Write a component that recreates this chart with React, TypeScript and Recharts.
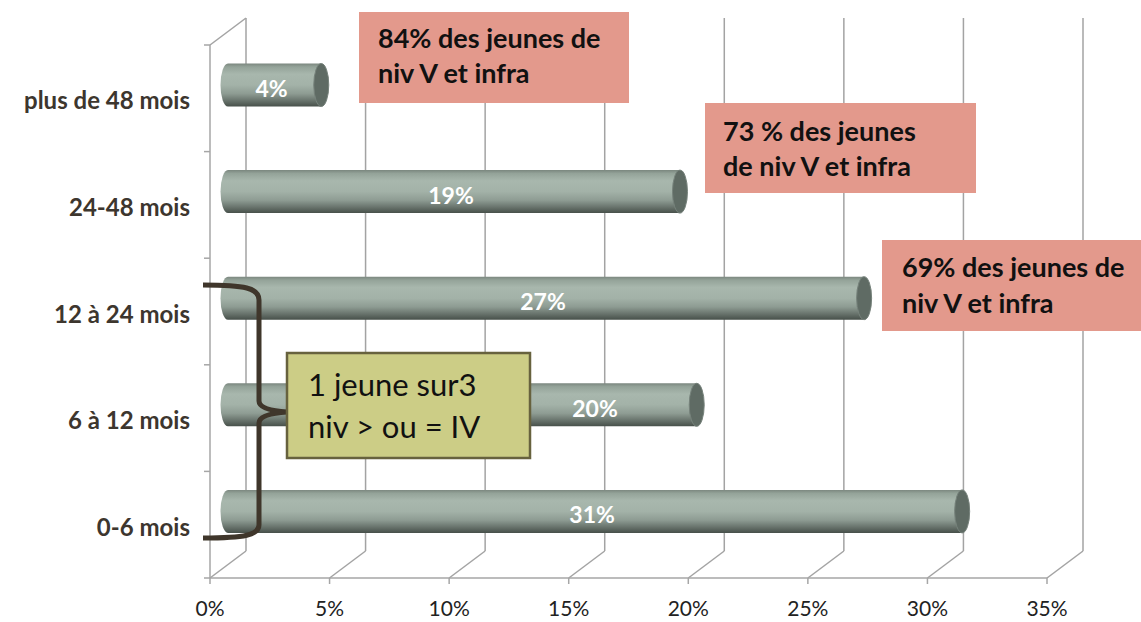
import { BarChart, Bar, XAxis, YAxis, ReferenceLine, LabelList } from "recharts"

// valeurs (en %)
const categories = ["plus de 48 mois", "24-48 mois", "12 à 24 mois", "6 à 12 mois", "0-6 mois"]
const shares = [3.9, 18.9, 26.6, 19.6, 30.7]
const xTicks = [0, 5, 10, 15, 20, 25, 30, 35]

const pinkNotes = [
  ["84% des jeunes de", "niv V et infra"],
  ["73 % des jeunes", "de niv V et infra"],
  ["69% des jeunes de", "niv V et infra"],
]
const greenNote = ["1 jeune sur3", "niv > ou = IV"]

const data = categories.map((cat, i) => ({ cat, share: shares[i] }))

// mise en page
const W = 1141
const H = 622
const PLOT = { left: 210, top: 45, right: 1047, bottom: 578 }
const DEPTH = { dx: 36, dy: -27 }
const BAR_SIZE = 43
const FONT = "Lato, 'Open Sans', sans-serif"

const PINK_BOXES = [
  { x: 359, y: 12, w: 270, h: 91, tx: 378, base: [48, 83] },
  { x: 705, y: 103, w: 271, h: 90, tx: 723, base: [141, 176] },
  { x: 882, y: 240, w: 259, h: 91, tx: 902, base: [277, 313] },
]
const GREEN_BOX = { x: 287, y: 353, w: 243, h: 105, tx: 308, base: [396, 438] }

function Cylinder(props: any) {
  const { x, y, width, height } = props
  const x0 = x + DEPTH.dx / 2
  const x1 = x + width + DEPTH.dx / 2
  const cy = y + height / 2 + DEPTH.dy / 2
  const ry = height / 2
  const rx = 7.5
  return (
    <g>
      <path
        d={`M${x0},${cy - ry} L${x1},${cy - ry} L${x1},${cy + ry} L${x0},${cy + ry} A${rx},${ry} 0 0 1 ${x0},${cy - ry} Z`}
        fill="url(#cylBody)"
      />
      <ellipse cx={x1} cy={cy} rx={rx} ry={ry} fill="#5f6b64" stroke="#76827b" strokeWidth={1} />
    </g>
  )
}

function ValueLabel(props: any) {
  const vb = props.viewBox || props
  const { x, y, width, height } = vb
  const value = props.value
  const x0 = x + DEPTH.dx / 2
  const x1 = x + width + DEPTH.dx / 2
  const cy = y + height / 2 + DEPTH.dy / 2
  let lx = (x0 + x1) / 2 - 3
  // l'étiquette est déplacée si elle tombe sous l'encadré vert
  const g = GREEN_BOX
  const underNote = cy + height / 2 > g.y && cy - height / 2 < g.y + g.h && lx > g.x - 30 && lx < g.x + g.w + 30
  if (underNote) lx = g.x + g.w + 65
  return (
    <text x={lx} y={cy + 12} textAnchor="middle" fill="#ffffff" fontSize={23} fontWeight="bold" fontFamily={FONT}>
      {`${Math.round(value)}%`}
    </text>
  )
}

function CatTick(props: any) {
  const { x, y, payload, index } = props
  const band = (PLOT.bottom - PLOT.top) / categories.length
  return (
    <g>
      <line x1={PLOT.left - 6} x2={PLOT.left} y1={y - band / 2} y2={y - band / 2} stroke="#a6a6a6" strokeWidth={1.5} />
      {index === categories.length - 1 && (
        <line x1={PLOT.left - 6} x2={PLOT.left} y1={y + band / 2} y2={y + band / 2} stroke="#a6a6a6" strokeWidth={1.5} />
      )}
      <text x={x} y={y + 11} textAnchor="end" fill="#3d362e" fontSize={24} fontWeight="bold" fontFamily={FONT}>
        {payload.value}
      </text>
    </g>
  )
}

function WallLine(props: any, first: boolean) {
  const { x1, y1, y2 } = props
  const top = Math.min(y1, y2)
  const bottom = Math.max(y1, y2)
  const bx = x1 + DEPTH.dx
  return (
    <g stroke="#a3a3a3" strokeWidth={1.5} fill="none">
      <line x1={bx} y1={top + DEPTH.dy} x2={bx} y2={bottom + DEPTH.dy} />
      <line x1={x1} y1={bottom} x2={bx} y2={bottom + DEPTH.dy} />
      {first && <line x1={x1} y1={top} x2={bx} y2={top + DEPTH.dy} />}
    </g>
  )
}

export default function App() {
  return (
    <div style={{ position: "absolute", left: 0, top: 0, width: W, height: H, background: "#fff", fontFamily: FONT }}>
      <svg width={0} height={0} style={{ position: "absolute" }}>
        <defs>
          <linearGradient id="cylBody" x1="0" y1="0" x2="0" y2="1">
            <stop offset="0" stopColor="#7b877f" />
            <stop offset="0.08" stopColor="#94a399" />
            <stop offset="0.25" stopColor="#a8b7ad" />
            <stop offset="0.5" stopColor="#a3b2a8" />
            <stop offset="0.7" stopColor="#8e9c93" />
            <stop offset="0.86" stopColor="#69746d" />
            <stop offset="1" stopColor="#47504a" />
          </linearGradient>
        </defs>
      </svg>

      <BarChart
        width={W}
        height={H}
        data={data}
        layout="vertical"
        margin={{ top: PLOT.top, right: W - PLOT.right, bottom: 0, left: 0 }}
      >
        <XAxis
          type="number"
          domain={[0, 35]}
          ticks={xTicks}
          interval={0}
          tickFormatter={(v) => `${v}%`}
          tick={{ fontSize: 21, fill: "#222", fontFamily: FONT }}
          tickLine={{ stroke: "#a6a6a6", strokeWidth: 1.5 }}
          axisLine={{ stroke: "#a6a6a6", strokeWidth: 1.5 }}
          tickSize={6}
          tickMargin={17}
          height={H - PLOT.bottom}
        />
        <YAxis
          type="category"
          dataKey="cat"
          width={PLOT.left}
          interval={0}
          tickLine={false}
          tickSize={0}
          tickMargin={20}
          axisLine={{ stroke: "#a6a6a6", strokeWidth: 1.5 }}
          tick={<CatTick />}
        />
        {xTicks.map((t) => (
          <ReferenceLine key={t} x={t} zIndex={-50} shape={(p: any) => WallLine(p, t === 0)} />
        ))}
        <Bar dataKey="share" barSize={BAR_SIZE} shape={<Cylinder />} isAnimationActive={false}>
          <LabelList dataKey="share" content={<ValueLabel />} />
        </Bar>
      </BarChart>

      <svg width={W} height={H} style={{ position: "absolute", left: 0, top: 0, pointerEvents: "none" }}>
        {PINK_BOXES.map((b, i) => (
          <g key={i}>
            <rect x={b.x} y={b.y} width={b.w} height={b.h} fill="#e3998c" />
            {pinkNotes[i].map((line, j) => (
              <text key={j} x={b.tx} y={b.base[j]} fontSize={27} fontWeight="bold" fill="#111" fontFamily={FONT}>
                {line}
              </text>
            ))}
          </g>
        ))}
        <path
          d="M203,285 C245,285 259,288 259,300 L259,401 Q259,410 287,412 Q259,414 259,423 L259,525 C259,535 245,538 203,538"
          fill="none"
          stroke="#3f362b"
          strokeWidth={5}
        />
        <rect
          x={GREEN_BOX.x}
          y={GREEN_BOX.y}
          width={GREEN_BOX.w}
          height={GREEN_BOX.h}
          fill="#cccd86"
          stroke="#67623e"
          strokeWidth={2.5}
        />
        {greenNote.map((line, j) => (
          <text key={j} x={GREEN_BOX.tx} y={GREEN_BOX.base[j]} fontSize={31} fill="#111" fontFamily={FONT}>
            {line}
          </text>
        ))}
      </svg>
    </div>
  )
}
